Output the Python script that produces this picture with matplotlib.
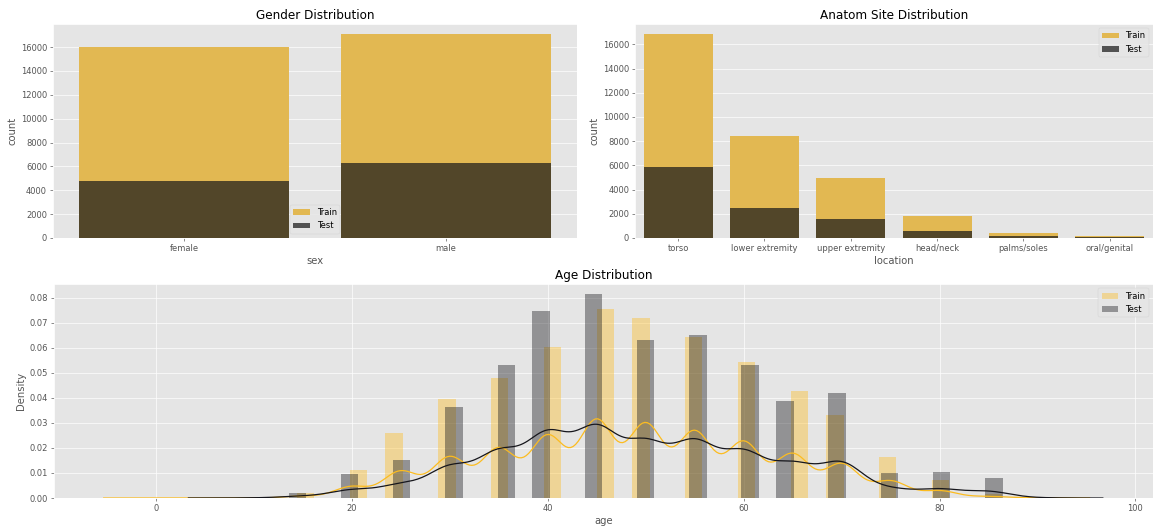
import numpy as np
import matplotlib
matplotlib.use("Agg")
import matplotlib.pyplot as plt

# ---- counts per category ------------------------------------------
sex_labels = ["female", "male"]
sex_train = [15980, 17080]
sex_test = [4770, 6250]

site_labels = ["torso", "lower extremity", "upper extremity",
               "head/neck", "palms/soles", "oral/genital"]
site_train = [16845, 8417, 4983, 1855, 375, 124]
site_test = [5847, 2501, 1573, 576, 150, 60]

# ---- age histograms (density per age value) ------------------------
train_ages = np.array([0, 10, 15, 20, 25, 30, 35, 40, 45, 50, 55, 60, 65, 70, 75, 80, 85, 90])
train_dens = np.array([0.00005, 0.0001, 0.0019, 0.0112, 0.026, 0.0397, 0.048, 0.0602, 0.0755,
                       0.0718, 0.0644, 0.0543, 0.0426, 0.0332, 0.0165, 0.0071, 0.0016, 0.0004])
test_ages = np.array([10, 15, 20, 25, 30, 35, 40, 45, 50, 55, 60, 65, 70, 75, 80, 85, 90])
test_dens = np.array([0.0002, 0.0021, 0.0095, 0.0153, 0.0362, 0.053, 0.0746, 0.0814, 0.0631,
                      0.0651, 0.053, 0.0387, 0.0418, 0.0101, 0.0104, 0.0079, 0.0003])
n_train = 33126
n_test = 10982

TRAIN_C = "#e2b852"
TEST_C = "#1a1a1a"
TRAIN_H = "#fcbc20"
TEST_H = "#16161c"


def kde_curve(ages, dens, n):
    # gaussian kde with scott bandwidth on the weighted age values
    w = dens / dens.sum()
    mean = np.sum(w * ages)
    std = np.sqrt(np.sum(w * (ages - mean) ** 2))
    h = std * n ** -0.2
    x = np.linspace(ages.min() - 3 * h, ages.max() + 3 * h, 400)
    y = (w[None, :] * np.exp(-(x[:, None] - ages[None, :]) ** 2 / (2 * h * h))).sum(axis=1)
    return x, y / (h * np.sqrt(2 * np.pi))


plt.style.use("ggplot")
fig = plt.figure(figsize=(1156 / 60, 527 / 60), dpi=60)

ax1 = fig.add_axes([0.0458, 0.5484, 0.4533, 0.4061])
ax2 = fig.add_axes([0.5493, 0.5484, 0.4481, 0.4061])
ax3 = fig.add_axes([0.0465, 0.0550, 0.9507, 0.4061])

# gender
pos = np.arange(len(sex_labels))
ax1.bar(pos, sex_train, width=0.8, color=TRAIN_C, label="Train")
ax1.bar(pos, sex_test, width=0.8, color=TEST_C, alpha=0.72, label="Test")
ax1.set_xticks(pos)
ax1.set_xticklabels(sex_labels)
ax1.set_xlim(-0.5, len(sex_labels) - 0.5)
ax1.xaxis.grid(False)
ax1.set_xlabel("sex")
ax1.set_ylabel("count")
ax1.set_title("Gender Distribution")
ax1.legend(loc="lower center")

# anatom site
pos = np.arange(len(site_labels))
ax2.bar(pos, site_train, width=0.8, color=TRAIN_C, label="Train")
ax2.bar(pos, site_test, width=0.8, color=TEST_C, alpha=0.72, label="Test")
ax2.set_xticks(pos)
ax2.set_xticklabels(site_labels)
ax2.set_xlim(-0.5, len(site_labels) - 0.5)
ax2.xaxis.grid(False)
ax2.set_xlabel("location")
ax2.set_ylabel("count")
ax2.set_title("Anatom Site Distribution")
ax2.legend(loc="upper right")

# age
ax3.hist(train_ages, bins=50, range=(train_ages.min(), train_ages.max()),
         weights=train_dens, color=TRAIN_H, alpha=0.4, label="Train")
x, y = kde_curve(train_ages, train_dens, n_train)
ax3.plot(x, y, color=TRAIN_H)
ax3.hist(test_ages, bins=45, range=(test_ages.min(), test_ages.max()),
         weights=test_dens, color=TEST_H, alpha=0.4, label="Test")
x, y = kde_curve(test_ages, test_dens, n_test)
ax3.plot(x, y, color=TEST_H)
ax3.set_xlabel("age")
ax3.set_ylabel("Density")
ax3.set_title("Age Distribution")
ax3.legend(loc="upper right")

fig.savefig("out.png", dpi=60)
